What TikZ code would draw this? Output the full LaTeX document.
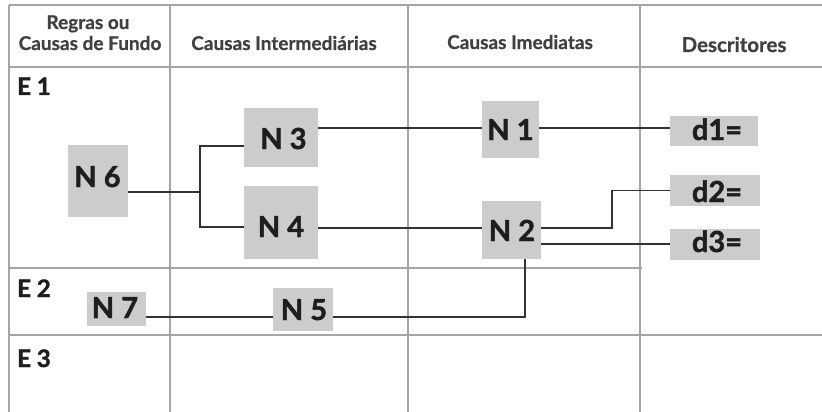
\documentclass[tikz,border=0pt]{standalone}
\usepackage{fontspec}
\setmainfont{Lato}[BoldFont={Lato Bold}]
\newfontfamily\heavyfont{Lato Bold}[FakeBold=1.6]
\newfontfamily\hdrfont{Lato Bold}[FakeBold=0.6]
\definecolor{gridc}{RGB}{165,165,168}
\definecolor{connc}{RGB}{50,50,50}
\definecolor{boxc}{RGB}{204,204,204}
\definecolor{txtc}{RGB}{30,30,30}
\begin{document}
\begin{tikzpicture}[x=1pt,y=-1pt,
  grid/.style={draw=gridc, line width=1.6pt},
  conn/.style={draw=connc, line width=1.8pt},
  box/.style={fill=boxc, inner sep=0pt, outer sep=0pt},
  lbl/.style={font=\fontsize{29}{29}\selectfont\heavyfont, text=txtc, inner sep=0pt, anchor=base},
  elbl/.style={font=\fontsize{24}{24}\selectfont\heavyfont, text=txtc, inner sep=0pt, anchor=base west},
  hdr/.style={font=\fontsize{19}{21}\selectfont\hdrfont, text=txtc!85!white, inner sep=0pt, anchor=base},
]
\useasboundingbox (0,0) rectangle (822,412);
\fill[white] (0,0) rectangle (822,412);

% grid
\draw[grid] (9,5) -- (9,412);
\draw[grid] (170,5) -- (170,412);
\draw[grid] (408,5) -- (408,412);
\draw[grid] (640,5) -- (640,412);
\draw[grid] (9,5) -- (822,5);
\draw[grid] (9,67) -- (822,67);
\draw[grid] (9,268) -- (642,268);
\draw[grid] (9,335) -- (822,335);

% headers
\node[hdr] (h1a) at (88,29) {Regras ou};
\node[hdr] (h1b) at (90,50) {Causas de Fundo};
\node[hdr] (h2) at (284,50) {Causas Intermediárias};
\node[hdr] (h3) at (520,49) {Causas Imediatas};
\node[hdr, font=\fontsize{20.5}{21}\selectfont\hdrfont] (h4) at (734,52) {Descritores};

% row labels
\node[elbl] (e1) at (17,95) {E 1};
\node[elbl] (e2) at (17,297) {E 2};
\node[elbl] (e3) at (17,367) {E 3};

% boxes
\node[box, minimum width=60pt, minimum height=72pt] (b6) at (98,181) {};
\node[box, minimum width=74pt, minimum height=59pt] (b3) at (281,137.5) {};
\node[box, minimum width=74pt, minimum height=73pt] (b4) at (281,222.5) {};
\node[box, minimum width=57pt, minimum height=57pt] (b1) at (510.5,129.5) {};
\node[box, minimum width=59pt, minimum height=58pt] (b2) at (511.5,230) {};
\node[box, minimum width=60pt, minimum height=43pt] (b5) at (303,309.5) {};
\node[box, minimum width=59pt, minimum height=34pt] (b7) at (116.5,309) {};
\node[box, minimum width=88pt, minimum height=30pt] (d1) at (714,131) {};
\node[box, minimum width=90pt, minimum height=31pt] (d2) at (715,190.5) {};
\node[box, minimum width=90pt, minimum height=31pt] (d3) at (715,244.5) {};

% box labels
\node[lbl] (t6) at (97.5,187) {N 6};
\node[lbl] (t3) at (283.5,149) {N 3};
\node[lbl] (t4) at (281,237) {N 4};
\node[lbl] (t1) at (510.5,140) {N 1};
\node[lbl] (t2) at (512,241) {N 2};
\node[lbl] (t5) at (304,320) {N 5};
\node[lbl] (t7) at (115,318) {N 7};
\node[lbl] (td1) at (717,140) {d1=};
\node[lbl] (td2) at (717,202) {d2=};
\node[lbl] (td3) at (717,252) {d3=};

% connectors
\coordinate (j) at (200,192);
\draw[conn] (b6.east |- 0,192) -- (j);
\draw[conn] (b3.west |- 0,146) -| (j) |- (b4.west |- 0,227);
\draw[conn] (b3.east |- 0,128) -- (b1.west |- 0,128);
\draw[conn] (b1.east |- 0,128) -- (d1.west |- 0,128);
\draw[conn] (b4.east |- 0,228) -- (b2.west |- 0,228);
\coordinate (k) at (612,228);
\draw[conn] (b2.east |- 0,228) -- (k) |- (d2.west);
\draw[conn] (b2.east |- 0,244) -- (d3.west |- 0,244);
\coordinate (m) at (525,317);
\draw[conn] (b2.south -| m) -- (m) -- (b5.east |- m);
\draw[conn] (b5.west |- m) -- (b7.east |- m);
\end{tikzpicture}
\end{document}
